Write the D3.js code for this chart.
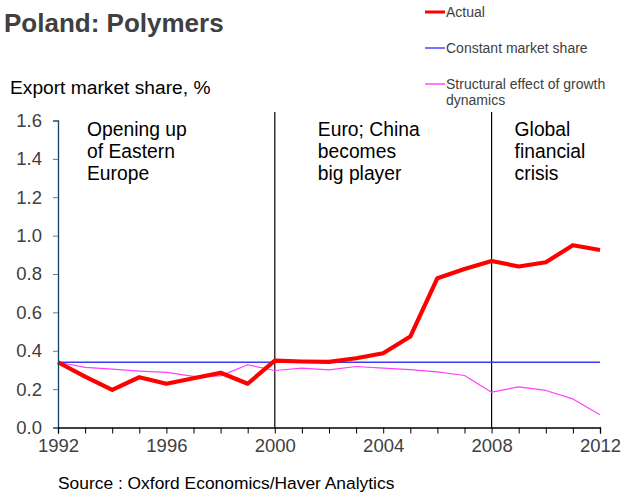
<!DOCTYPE html>
<html>
<head>
<meta charset="utf-8">
<script src="https://cdn.jsdelivr.net/npm/d3@7"></script>
<style>
  html, body { margin: 0; padding: 0; background: #fff; }
  svg { display: block; font-family: "Liberation Sans", Arial, sans-serif; }
</style>
</head>
<body>
<svg id="chart" width="623" height="497"></svg>
<script>
// Export market share of Polish polymers, 1992-2012
const years = d3.range(1992, 2013);
const actual = [0.34, 0.265, 0.196, 0.262, 0.228, 0.257, 0.285, 0.228, 0.349, 0.344, 0.342,
                0.361, 0.387, 0.474, 0.778, 0.826, 0.868, 0.839, 0.861, 0.950, 0.925];
const constantShare = [0.34, 0.34, 0.34, 0.34, 0.34, 0.34, 0.34, 0.34, 0.34, 0.34, 0.34,
                       0.34, 0.34, 0.34, 0.34, 0.34, 0.34, 0.34, 0.34, 0.34, 0.34];
const structural = [0.34, 0.313, 0.304, 0.294, 0.287, 0.266, 0.269, 0.327, 0.297, 0.309, 0.300,
                    0.318, 0.309, 0.302, 0.290, 0.271, 0.184, 0.212, 0.193, 0.149, 0.066];
const yTicks = [0, 0.2, 0.4, 0.6, 0.8, 1.0, 1.2, 1.4, 1.6];
const xTickLabels = [1992, 1996, 2000, 2004, 2008, 2012];
const periodBreaks = [2000, 2008];
const periodNotes = [
  { year: 1992, dx: 29, lines: ["Opening up", "of Eastern", "Europe"] },
  { year: 2000, dx: 43, lines: ["Euro; China", "becomes", "big player"] },
  { year: 2008, dx: 23, lines: ["Global", "financial", "crisis"] }
];
const seriesNames = ["Actual", "Constant market share", "Structural effect of growth dynamics"];
const seriesColors = ["#ff0000", "#3b3bf5", "#ff40ff"];
const seriesWidths = [4.2, 1.4, 1.2];

const svg = d3.select("#chart");
const margin = { left: 58, right: 23, top: 120.5, bottom: 69.5 };
const W = 623, H = 497;

const x = d3.scaleLinear().domain([1992, 2012]).range([margin.left, W - margin.right]);
const y = d3.scaleLinear().domain([0, 1.6]).range([H - margin.bottom, margin.top]);

// Title and axis caption
svg.append("text").attr("x", 4).attr("y", 32)
  .attr("font-size", 26).attr("font-weight", "bold").attr("fill", "#404040")
  .text("Poland: Polymers");
svg.append("text").attr("x", 10).attr("y", 94)
  .attr("font-size", 19.2).attr("fill", "#000")
  .text("Export market share, %");

// Period separators
svg.append("g").selectAll("line").data(periodBreaks).join("line")
  .attr("x1", d => x(d)).attr("x2", d => x(d))
  .attr("y1", 112).attr("y2", y(0))
  .attr("stroke", "#000").attr("stroke-width", 1.2);

// Period annotations
periodNotes.forEach(n => {
  const t = svg.append("text").attr("font-size", 19.3).attr("fill", "#000");
  n.lines.forEach((l, i) => {
    t.append("tspan").attr("x", x(n.year) + n.dx).attr("y", 136 + i * 22).text(l);
  });
});

// Series lines
const line = d3.line().x((d, i) => x(years[i])).y(d => y(d));
[structural, constantShare, actual].forEach((s, k) => {
  const idx = 2 - k;
  svg.append("path").datum(s)
    .attr("d", line)
    .attr("fill", "none")
    .attr("stroke", seriesColors[idx])
    .attr("stroke-width", seriesWidths[idx])
    .attr("stroke-linejoin", "round");
});

// Y axis
const yAxis = svg.append("g").attr("transform", `translate(${x(1992)},0)`)
  .call(d3.axisLeft(y).tickValues(yTicks).tickFormat(d3.format(".1f")).tickSize(5).tickPadding(11));
yAxis.select(".domain").attr("stroke", "#17405f").attr("stroke-width", 1.3);
yAxis.selectAll(".tick line").attr("stroke", "#5a7f99");
yAxis.selectAll("text").attr("font-size", 18.5).attr("fill", "#404040")
  .attr("font-family", "Liberation Sans, Arial, sans-serif");

// X axis
const xAxis = svg.append("g").attr("transform", `translate(0,${y(0)})`)
  .call(d3.axisBottom(x).tickValues(years).tickSize(6).tickPadding(5)
    .tickFormat(d => xTickLabels.includes(d) ? String(d) : ""));
xAxis.select(".domain").attr("stroke", "#000").attr("stroke-width", 1.3);
xAxis.selectAll(".tick line").attr("stroke", "#000");
xAxis.selectAll("text").attr("font-size", 18.5).attr("fill", "#404040")
  .attr("font-family", "Liberation Sans, Arial, sans-serif");

// Legend
const legendRows = [
  { y: 12, lines: [seriesNames[0]] },
  { y: 48, lines: [seriesNames[1]] },
  { y: 84, lines: ["Structural effect of growth", "dynamics"] }
];
legendRows.forEach((r, i) => {
  svg.append("line").attr("x1", 425).attr("x2", 445).attr("y1", r.y).attr("y2", r.y)
    .attr("stroke", seriesColors[i]).attr("stroke-width", i === 0 ? 3 : 1.4);
  const t = svg.append("text").attr("font-size", 14).attr("fill", "#404040");
  r.lines.forEach((l, j) => {
    t.append("tspan").attr("x", 446).attr("y", r.y + 5 + j * 16).text(l);
  });
});

// Source note
svg.append("text").attr("x", 58).attr("y", 489)
  .attr("font-size", 17.4).attr("fill", "#000")
  .text("Source : Oxford Economics/Haver Analytics");
</script>
</body>
</html>
